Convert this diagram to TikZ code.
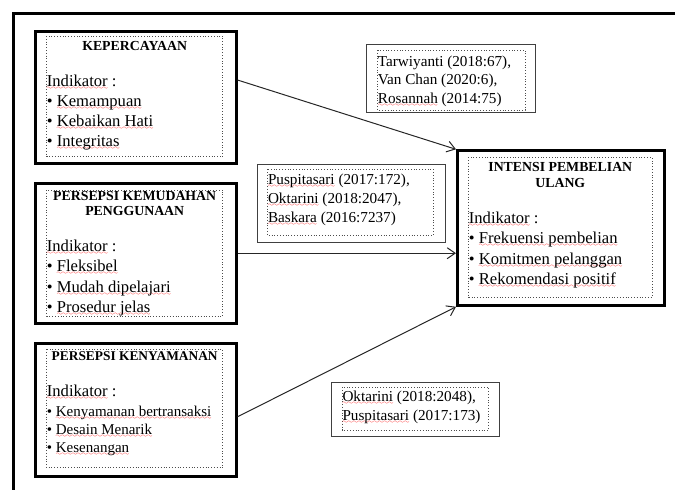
\documentclass[tikz,border=0pt]{standalone}
\usepackage{fontspec}
\setmainfont{Liberation Serif}
\usetikzlibrary{arrows.meta,calc}
\font\wavefont=lasy6
\newsavebox\sqbox
\newcommand\rsq[1]{\sbox\sqbox{#1}\rlap{\color{red}\lower3pt\hbox to\wd\sqbox{\xleaders\hbox{\wavefont\char58}\hfil}}\usebox\sqbox}
\newcommand\gsq[1]{\sbox\sqbox{#1}\rlap{\color[rgb]{0.2,0.6,0.2}\lower3pt\hbox to\wd\sqbox{\xleaders\hbox{\wavefont\char58}\hfil}}\usebox\sqbox}
\tikzset{
  frame/.style={line width=3pt},
  varbox/.style={draw, line width=3pt, inner sep=0pt, minimum width=201pt},
  dotbox/.style={draw=black!70, dotted, line width=0.8pt},
  citebox/.style={draw=black!75, line width=1pt},
  head/.style={font=\fontsize{13.8}{15.6}\selectfont\bfseries, align=center, inner sep=0pt, anchor=base},
  list/.style={font=\fontsize{16.6}{20.3}\selectfont, align=left, inner sep=0pt, anchor=base west},
  smalllist/.style={font=\fontsize{15}{17.7}\selectfont, align=left, inner sep=0pt, anchor=base west},
  cite/.style={font=\fontsize{15.2}{18.8}\selectfont, align=left, inner sep=0pt, anchor=base west},
  arr/.style={line width=1pt, draw=black!85, -{Straight Barb[length=8pt,width=11pt]}}
}
\begin{document}
\begin{tikzpicture}[x=1pt,y=-1pt]
\useasboundingbox (0,0) rectangle (675,490);
\clip (0,0) rectangle (675,490);
% outer frame
\draw[frame] (13.5,13.5) rectangle (700,520);

% variable boxes
\node[varbox, minimum height=131.6pt] (b1) at (135.5,97.5) {};
\node[varbox, minimum height=139.7pt] (b2) at (135.5,253.2) {};
\node[varbox, minimum height=133pt] (b3) at (135.5,409.8) {};
\node[varbox, minimum width=207.2pt, minimum height=154.5pt] (t) at (561.1,228.05) {};

% inner dotted frames
\draw[dotbox] (46.7,36) rectangle (222.7,156.7);
\draw[dotbox] (46.7,190) rectangle (222.7,316);
\draw[dotbox] (46.7,349.3) rectangle (222.7,467.7);
\draw[dotbox] (468.7,157.3) rectangle (652,297.3);

% citation boxes
\draw[citebox] (366,44) rectangle (535,112.5);
\draw[dotbox] (377.7,50) rectangle (525,110);
\draw[citebox] (257.3,164.3) rectangle (445.7,242.3);
\draw[dotbox] (267.3,169.3) rectangle (433.3,235);
\draw[citebox] (331.7,382) rectangle (499,436);
\draw[dotbox] (342.3,387.3) rectangle (488.3,430);

% box 1 (base anchor = baseline of last line)
\node[head] (h1) at (134.7,50) {KEPERCAYAAN};
\node[list] (l1) at (46.7,146.9) {\rsq{Indikator} \gsq{:}\\
\textbullet\ \rsq{Kemampuan}\\
\textbullet\ \rsq{Kebaikan Hati}\\
\textbullet\ \rsq{Integritas}};

% box 2
\node[head] (h2) at (134.7,215.6) {PERSEPSI KEMUDAHAN\\PENGGUNAAN};
\node[list] (l2) at (46.7,312.4) {\rsq{Indikator} \gsq{:}\\
\textbullet\ \rsq{Fleksibel}\\
\textbullet\ \rsq{Mudah dipelajari}\\
\textbullet\ \rsq{Prosedur jelas}};

% box 3
\node[head, font=\fontsize{13.4}{15.6}\selectfont\bfseries] (h3) at (134.7,360.7) {PERSEPSI KENYAMANAN};
\node[list] (i3) at (46.7,396.7) {\rsq{Indikator} \gsq{:}};
\node[smalllist] (l3) at (46.7,452.1) {\textbullet\ \rsq{Kenyamanan bertransaksi}\\
\textbullet\ \rsq{Desain Menarik}\\
\textbullet\ \rsq{Kesenangan}};

% target
\node[head] (ht) at (560.3,187.3) {INTENSI PEMBELIAN\\ULANG};
\node[list] (lt) at (468.7,284.5) {\rsq{Indikator} \gsq{:}\\
\textbullet\ \rsq{Frekuensi pembelian}\\
\textbullet\ \rsq{Komitmen pelanggan}\\
\textbullet\ \rsq{Rekomendasi positif}};

% citations
\node[cite] (c1) at (377.7,103.6) {Tarwiyanti (2018:67),\\
Van Chan (2020:6),\\
\rsq{Rosannah} (2014:75)};
\node[cite] (c2) at (267.8,222.2) {\rsq{Puspitasari} (2017:172),\\
\rsq{Oktarini} (2018:2047),\\
\rsq{Baskara} (2016:7237)};
\node[cite] (c3) at (342.3,420.3) {\rsq{Oktarini} (2018:2048),\\
\rsq{Puspitasari} (2017:173)};

% connectors
\coordinate (s1) at ($(b1.east)+(0,-17.5)$);
\coordinate (s3) at ($(b3.east)+(0,7)$);
\draw[arr] (s1) -- (t.north west);
\draw[arr] (b2.east) -- (b2.east -| t.west);
\draw[arr] (s3) -- (t.south west);
\end{tikzpicture}
\end{document}
